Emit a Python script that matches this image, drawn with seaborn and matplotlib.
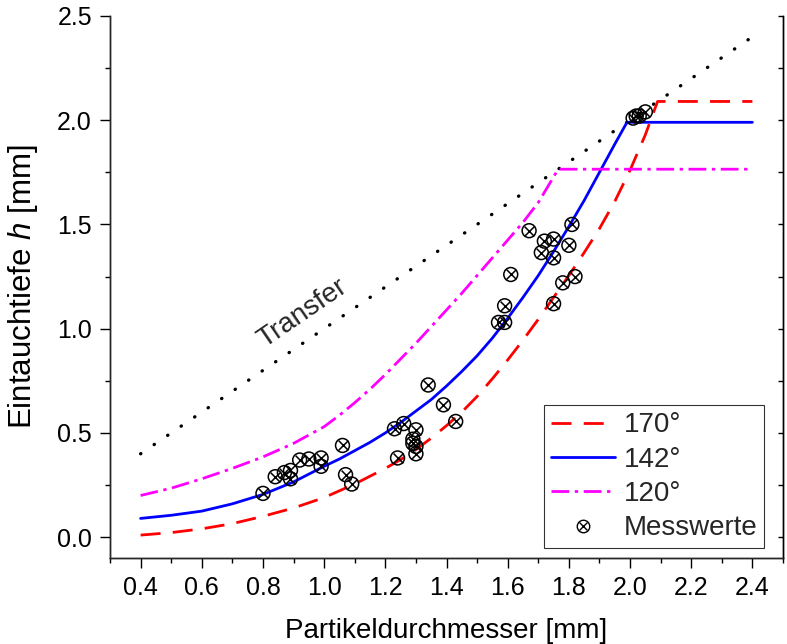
import numpy as np
import pandas as pd
import matplotlib
matplotlib.use("Agg")
import matplotlib.pyplot as plt
from matplotlib.lines import Line2D
from matplotlib.ticker import MultipleLocator, FormatStrFormatter
import seaborn as sns

# Transfer line h = d
transfer_d = [0.4, 2.4]
transfer_h = [0.4, 2.4]

# Model curves for three contact angles (diameter in mm, immersion depth in mm)
d_170 = [0.4, 0.5, 0.6, 0.7, 0.8, 0.9, 1.0, 1.1, 1.2, 1.25, 1.3, 1.35, 1.4, 1.45, 1.5,
         1.55, 1.6, 1.65, 1.7, 1.75, 1.8, 1.85, 1.9, 1.95, 2.0, 2.05, 2.09, 2.4]
h_170 = [0.01, 0.022, 0.04, 0.065, 0.10, 0.14, 0.19, 0.255, 0.33, 0.372, 0.42, 0.475, 0.535, 0.60, 0.675,
         0.76, 0.85, 0.945, 1.045, 1.15, 1.255, 1.365, 1.48, 1.61, 1.76, 1.93, 2.09, 2.09]

d_142 = [0.4, 0.5, 0.6, 0.7, 0.8, 0.9, 1.0, 1.05, 1.1, 1.15, 1.2, 1.25, 1.3, 1.35, 1.4, 1.45,
         1.5, 1.55, 1.6, 1.65, 1.7, 1.75, 1.8, 1.85, 1.9, 1.95, 1.99, 2.4]
h_142 = [0.09, 0.105, 0.125, 0.16, 0.205, 0.265, 0.34, 0.375, 0.415, 0.455, 0.50, 0.55, 0.605, 0.66, 0.725, 0.795,
         0.87, 0.955, 1.05, 1.15, 1.255, 1.37, 1.49, 1.615, 1.75, 1.885, 1.99, 1.99]

d_120 = [0.4, 0.5, 0.6, 0.7, 0.8, 0.9, 1.0, 1.05, 1.1, 1.15, 1.2, 1.25, 1.3, 1.35, 1.4, 1.45,
         1.5, 1.55, 1.6, 1.65, 1.7, 1.765, 2.4]
h_120 = [0.20, 0.235, 0.28, 0.33, 0.385, 0.45, 0.53, 0.585, 0.645, 0.71, 0.78, 0.855, 0.93, 1.01, 1.09, 1.17,
         1.255, 1.34, 1.425, 1.51, 1.605, 1.765, 1.765]

# Measured values
mess_d = [0.80, 0.84, 0.87, 0.89, 0.89, 0.92, 0.95, 0.99, 0.99, 1.06, 1.07, 1.09,
          1.23, 1.26, 1.24, 1.29, 1.29, 1.30, 1.30, 1.30, 1.34, 1.39, 1.43,
          1.57, 1.59, 1.59, 1.61, 1.67, 1.71, 1.72, 1.75, 1.75, 1.75, 1.78, 1.80, 1.81, 1.82,
          2.01, 2.02, 2.03, 2.05]
mess_h = [0.21, 0.29, 0.31, 0.28, 0.32, 0.37, 0.375, 0.38, 0.34, 0.44, 0.30, 0.255,
          0.52, 0.545, 0.38, 0.47, 0.45, 0.435, 0.40, 0.515, 0.73, 0.635, 0.555,
          1.03, 1.03, 1.11, 1.26, 1.47, 1.365, 1.42, 1.43, 1.34, 1.12, 1.22, 1.40, 1.50, 1.25,
          2.01, 2.02, 2.02, 2.04]

legend_labels = ["170°", "142°", "120°", "Messwerte"]

sns.set_theme(style="ticks")
plt.rcParams["font.family"] = ["Liberation Sans", "DejaVu Sans"]
plt.rcParams["mathtext.fontset"] = "custom"
plt.rcParams["mathtext.rm"] = "Liberation Sans"
plt.rcParams["mathtext.it"] = "Liberation Sans:italic"
plt.rcParams["axes.linewidth"] = 1.0

fig = plt.figure(figsize=(7.87, 6.44), dpi=100)
ax = fig.add_axes([0.1398, 0.1335, 0.8551, 0.8417])

lw = 2.0
dash_170 = (0, (7.2, 4.4))
dash_120 = (0, (6.4, 2.0, 1.2, 2.0))

sns.lineplot(x=transfer_d, y=transfer_h, ax=ax, color="black", lw=2.4,
             linestyle=(0, (0.1, 4.8)), dash_capstyle="round", sort=False)
sns.lineplot(x=d_170, y=h_170, ax=ax, color="#ff0000", lw=lw,
             linestyle=dash_170, sort=False)
sns.lineplot(x=d_142, y=h_142, ax=ax, color="#0000ff", lw=lw, sort=False)
sns.lineplot(x=d_120, y=h_120, ax=ax, color="#ff00ff", lw=lw,
             linestyle=dash_120, sort=False)

mess = pd.DataFrame({"d": mess_d, "h": mess_h})
sns.scatterplot(data=mess, x="d", y="h", ax=ax, marker="o", s=100,
                facecolor="none", edgecolor="black", linewidth=1.1, zorder=5)
sns.scatterplot(data=mess, x="d", y="h", ax=ax, marker="x", s=50,
                color="black", linewidth=1.1, zorder=5)

ax.text(0.93, 1.075, "Transfer", rotation=34.4, ha="center", va="center",
        fontsize=20, rotation_mode="anchor")

ax.set_xlim(0.3, 2.5)
ax.set_ylim(-0.1, 2.5)
ax.xaxis.set_major_locator(MultipleLocator(0.2))
ax.xaxis.set_minor_locator(MultipleLocator(0.1))
ax.yaxis.set_major_locator(MultipleLocator(0.5))
ax.yaxis.set_minor_locator(MultipleLocator(0.25))
ax.xaxis.set_major_formatter(FormatStrFormatter("%.1f"))
ax.yaxis.set_major_formatter(FormatStrFormatter("%.1f"))
ax.set_xticks([0.4, 0.6, 0.8, 1.0, 1.2, 1.4, 1.6, 1.8, 2.0, 2.2, 2.4])
ax.tick_params(axis="both", which="major", direction="out", length=7, width=1.0,
               labelsize=18, pad=6, color="black", labelcolor="black")
ax.tick_params(axis="both", which="minor", direction="out", length=3.6, width=1.0,
               color="black")

ax.spines["top"].set_visible(False)
for s in ["left", "bottom", "right"]:
    ax.spines[s].set_color("black")
    ax.spines[s].set_linewidth(1.0)

ax2 = ax.twinx()
ax2.set_ylim(ax.get_ylim())
ax2.yaxis.set_major_locator(MultipleLocator(0.25))
ax2.yaxis.set_minor_locator(MultipleLocator(0.25))
ax2.tick_params(axis="y", which="both", direction="in", length=3.6, width=1.0,
                labelright=False, color="black")
ax2.spines["top"].set_visible(False)
ax2.spines["right"].set_color("black")
ax2.spines["right"].set_linewidth(1.0)

ax.set_xlabel("Partikeldurchmesser [mm]", fontsize=20, labelpad=13, color="black")
ax.set_ylabel("Eintauchtiefe $h$ [mm]", fontsize=22.5, labelpad=12, color="black")

handles = [
    Line2D([], [], color="#ff0000", lw=lw, linestyle=dash_170),
    Line2D([], [], color="#0000ff", lw=lw),
    Line2D([], [], color="#ff00ff", lw=lw, linestyle=dash_120),
    (Line2D([], [], marker="o", ls="none", markersize=9, markerfacecolor="none",
            markeredgecolor="black", markeredgewidth=1.0),
     Line2D([], [], marker="x", ls="none", markersize=6.3, color="black",
            markeredgewidth=1.0)),
]
leg = ax.legend(handles, legend_labels, loc="lower right",
                bbox_to_anchor=(0.972, 0.018), borderaxespad=0, fontsize=20,
                frameon=True, fancybox=False, edgecolor="black", handlelength=2.3,
                handletextpad=0.3, labelspacing=0.3, borderpad=0.25)
leg.get_frame().set_linewidth(0.8)

fig.savefig("out.png", dpi=100)
